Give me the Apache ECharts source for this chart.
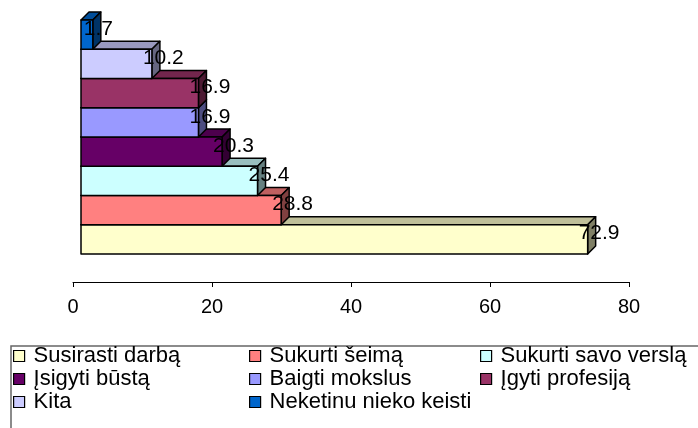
<!DOCTYPE html>
<html>
<head>
<meta charset="UTF-8">
<title></title>
<style>
  *{padding:0;margin:0;}
  body{background:#fff;}
  #chart{width:698px;height:428px;}
</style>
</head>
<body>
<div id="chart"></div>
<script src="https://cdn.jsdelivr.net/npm/echarts@6/dist/echarts.min.js"></script>
<script>
// data, bottom bar first
var names = ["Susirasti darbą", "Sukurti šeimą", "Sukurti savo verslą", "Įsigyti būstą",
             "Baigti mokslus", "Įgyti profesiją", "Kita", "Neketinu nieko keisti"];
var values = [72.9, 28.8, 25.4, 20.3, 16.9, 16.9, 10.2, 1.7];
var xTicks = [0, 20, 40, 60, 80];

var colors = ["#FFFFCC", "#FF8080", "#CCFFFF", "#660066", "#9999FF", "#993366", "#CCCCFF", "#0066CC"];
var legendCols = [
  ["Susirasti darbą", "Įsigyti būstą", "Kita"],
  ["Sukurti šeimą", "Baigti mokslus", "Neketinu nieko keisti"],
  ["Sukurti savo verslą", "Įgyti profesiją"]
];
var legendLeft = [13, 249, 480];

var DX = 8, DY = 8;
var FONT = "Liberation Sans";

function shade(hex, k){
  var n = parseInt(hex.slice(1), 16);
  var r = Math.round(((n >> 16) & 255) * k);
  var g = Math.round(((n >> 8) & 255) * k);
  var b = Math.round((n & 255) * k);
  return "rgb(" + r + "," + g + "," + b + ")";
}

function bar3d(color){
  return function(params, api){
    var v = api.value(0), i = api.value(1);
    var a = api.coord([0, i + 1]);
    var b = api.coord([v, i]);
    var x0 = a[0] + DX, x1 = b[0] + DX, yT = a[1], yB = b[1];
    var line = {stroke: "#000", lineWidth: 1.5, lineJoin: "round"};
    return {
      type: "group",
      children: [
        {type: "polygon", shape: {points: [[x0, yT], [x0 + DX, yT - DY], [x1 + DX, yT - DY], [x1, yT]]},
         style: Object.assign({fill: shade(color, 0.75)}, line)},
        {type: "polygon", shape: {points: [[x1, yT], [x1 + DX, yT - DY], [x1 + DX, yB - DY], [x1, yB]]},
         style: Object.assign({fill: shade(color, 0.5)}, line)},
        {type: "rect", shape: {x: x0, y: yT, width: x1 - x0, height: yB - yT},
         style: Object.assign({fill: color}, line)},
        {type: "text", x: x1 - 9, y: yT + 9,
         style: {text: String(v), fill: "#000", font: "21px '" + FONT + "'",
                 textAlign: "left", textVerticalAlign: "middle"}}
      ]
    };
  };
}

var chart = echarts.init(document.getElementById("chart"));

var series = names.map(function(n, i){
  return {
    name: n,
    type: "custom",
    renderItem: bar3d(colors[i]),
    itemStyle: {color: colors[i]},
    data: [[values[i], i]],
    encode: {x: 0, y: 1},
    clip: false,
    animation: false
  };
});

var legends = legendCols.map(function(col, k){
  return {
    data: col,
    orient: "vertical",
    left: legendLeft[k],
    top: 345,
    padding: 0,
    itemGap: 1,
    itemWidth: 11,
    itemHeight: 11,
    icon: "rect",
    selectedMode: false,
    itemStyle: {borderColor: "#000", borderWidth: 1.2},
    textStyle: {fontFamily: FONT, fontSize: 22, color: "#000", padding: [0, 0, 0, 4]}
  };
});

chart.setOption({
  animation: false,
  grid: {left: 73, right: 69, top: 20, bottom: 146},
  xAxis: {
    type: "value",
    min: xTicks[0],
    max: xTicks[xTicks.length - 1],
    interval: 20,
    axisLine: {show: true, onZero: false, lineStyle: {color: "#000", width: 1}},
    axisTick: {show: true, length: 5, lineStyle: {color: "#000"}},
    axisLabel: {color: "#000", fontSize: 20, fontFamily: FONT, margin: 15},
    splitLine: {show: false}
  },
  yAxis: {
    type: "value",
    min: -0.96,
    max: 8,
    show: false
  },
  legend: legends,
  graphic: [{
    type: "rect",
    shape: {x: 11, y: 346, width: 720, height: 120},
    style: {fill: "none", stroke: "#666", lineWidth: 1.5},
    silent: true
  }],
  series: series
});
</script>
</body>
</html>
